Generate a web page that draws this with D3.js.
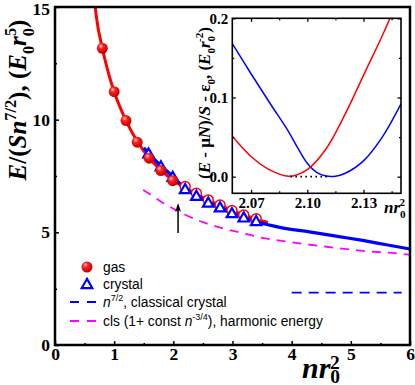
<!DOCTYPE html>
<html>
<head>
<meta charset="utf-8">
<script src="https://cdn.jsdelivr.net/npm/d3@7"></script>
<style>
  html, body { margin: 0; padding: 0; background: #fff; }
  svg { display: block; }
</style>
</head>
<body>
<div id="chart"></div>
<script>
const WIDTH = 415
const HEIGHT = 385

// ---- main panel data ----
// gas (filled spheres) and the hollow gas rings hidden behind the crystal triangles
const gasX = [0.8, 1.0, 1.2, 1.39, 1.59, 1.79, 1.99];
const gasY = [13.17, 11.24, 9.96, 9.0, 8.29, 7.74, 7.29];
const gasRingX = [2.2, 2.39, 2.59, 2.79, 2.99, 3.19, 3.4];
const gasRingY = [7.03, 6.73, 6.44, 6.21, 5.97, 5.77, 5.60];
const crystalX = [1.58, 1.79, 1.99, 2.2, 2.39, 2.59, 2.79, 2.99, 3.19, 3.4];
const crystalY = [8.5, 7.93, 7.46, 6.92, 6.62, 6.32, 6.11, 5.85, 5.66, 5.50];

// fitted curves
const gasLineX = [0.68, 0.7, 0.8, 0.9, 1.0, 1.2, 1.4, 1.6, 1.8, 2.0, 2.2, 2.4, 2.6, 2.8, 3.0, 3.2, 3.4, 3.6];
const gasLineY = [15.0, 14.55, 13.17, 12.1, 11.24, 9.96, 9.0, 8.28, 7.74, 7.3, 6.98, 6.69, 6.42, 6.18, 5.96, 5.77, 5.58, 5.43];
const crystalLineX = [1.5, 1.6, 1.8, 2.0, 2.2, 2.4, 2.6, 2.8, 3.0, 3.2, 3.4, 3.8, 4.3, 4.8, 5.2, 5.6, 6.0];
const crystalLineY = [8.75, 8.45, 7.93, 7.46, 6.95, 6.63, 6.34, 6.10, 5.86, 5.66, 5.48, 5.22, 5.02, 4.81, 4.64, 4.45, 4.26];
const harmonicX = [1.49, 1.6, 1.8, 2.0, 2.2, 2.5, 2.84, 3.2, 3.46, 4.0, 4.59, 5.2, 5.94, 6.0];
const harmonicY = [6.88, 6.70, 6.35, 6.05, 5.78, 5.45, 5.18, 4.95, 4.78, 4.56, 4.36, 4.18, 4.02, 4.0];
const classicalX = [4.0, 5.86];
const classicalY = [2.32, 2.32];
const arrowX = 2.08;
const arrowY = [4.97, 6.3];

const xTicks = [0, 1, 2, 3, 4, 5, 6];
const xMinor = [0.5, 1.5, 2.5, 3.5, 4.5, 5.5];
const yTicks = [0, 5, 10, 15];
const yMinor = [2.5, 7.5, 12.5];

// ---- inset data ----
const insetRedX = [2.06, 2.07, 2.08, 2.09, 2.10, 2.11, 2.12, 2.13, 2.14, 2.145];
const insetRedY = [0.051, 0.0255, 0.0085, 0.0005, 0.009, 0.035, 0.078, 0.128, 0.178, 0.205];
const insetBlueX = [2.06, 2.07, 2.08, 2.09, 2.095, 2.10, 2.105, 2.11, 2.115, 2.12, 2.13, 2.14, 2.15];
const insetBlueY = [0.168, 0.130, 0.093, 0.057, 0.036, 0.017, 0.0055, 0.0008, 0.0006, 0.004, 0.020, 0.05, 0.092];
const tangentX = [2.091, 2.111];
const insetXTicks = [2.07, 2.10, 2.13];
const insetXMinor = [2.085, 2.115, 2.145];
const insetYTicks = [0.0, 0.1, 0.2];
const insetYMinor = [0.05, 0.15];

const legendItems = ['gas', 'crystal', 'classical', 'harmonic'];

const SERIF = "'Liberation Serif', 'Times New Roman', serif";
const SANS = "'Liberation Sans', Arial, sans-serif";
const RED = '#ff0000';
const BLUE = '#0000ff';
const MAGENTA = '#ff00ff';

var svg = d3.select("#chart").append("svg")
    .attr("width", WIDTH)
    .attr("height", HEIGHT);

var defs = svg.append("defs");
var grad = defs.append("radialGradient")
    .attr("id", "sphere")
    .attr("cx", "0.4").attr("cy", "0.35").attr("r", "0.65")
    .attr("fx", "0.35").attr("fy", "0.3");
grad.append("stop").attr("offset", "0").attr("stop-color", "#ffd0d0");
grad.append("stop").attr("offset", "0.35").attr("stop-color", "#ff2020");
grad.append("stop").attr("offset", "1").attr("stop-color", "#c00000");

var xScale = d3.scaleLinear().domain([0, 6]).range([55, 410]);
var yScale = d3.scaleLinear().domain([0, 15]).range([345, 7]);

// rich text helper: parts = [{t, i, s:'sub'|'sup', dx}]
function rich(sel, parts, size, subK, supK) {
    let cur = 0;
    const sk = subK || 0.3;
    const pk = supK || 0.42;
    parts.forEach(p => {
        const s = p.s || 'n';
        const off = s === 'sub' ? sk * size : s === 'sup' ? -pk * size : 0;
        const ts = sel.append("tspan").text(p.t)
            .attr("dy", off - cur)
            .attr("font-size", s === 'n' ? size : size * 0.65)
            .attr("font-style", p.i ? "italic" : "normal");
        if (p.dx) ts.attr("dx", p.dx);
        cur = off;
    });
}

// ---- axes (ticks inward) ----
svg.append("g")
    .attr("transform", "translate(0,345)")
    .call(d3.axisBottom(xScale).tickValues(xTicks).tickSize(-4).tickPadding(3).tickFormat(d3.format("d")));
svg.append("g")
    .attr("transform", "translate(0,345)")
    .call(d3.axisBottom(xScale).tickValues(xMinor).tickSize(-2).tickFormat(""));
svg.append("g")
    .attr("transform", "translate(55,0)")
    .call(d3.axisLeft(yScale).tickValues(yTicks).tickSize(-4).tickPadding(5).tickFormat(d3.format("d")));
svg.append("g")
    .attr("transform", "translate(55,0)")
    .call(d3.axisLeft(yScale).tickValues(yMinor).tickSize(-2).tickFormat(""));
svg.selectAll(".domain").remove();
svg.selectAll(".tick line").attr("stroke", "#000").attr("stroke-width", 1.5);
svg.selectAll(".tick text")
    .attr("font-family", SERIF)
    .attr("font-weight", "bold")
    .attr("font-size", 17.5)
    .attr("fill", "#000");
// keep the top label inside the picture
svg.selectAll(".tick text").filter(d => d === 15).attr("dy", "0.45em");

// ---- curves ----
var line = d3.line()
    .x(d => xScale(d[0]))
    .y(d => yScale(d[1]))
    .curve(d3.curveMonotoneX);

svg.append("path")
    .datum(harmonicX.map((x, i) => [x, harmonicY[i]]))
    .attr("fill", "none")
    .attr("stroke", MAGENTA)
    .attr("stroke-width", 1.8)
    .attr("stroke-dasharray", "9,7")
    .attr("d", line);

svg.append("path")
    .datum(classicalX.map((x, i) => [x, classicalY[i]]))
    .attr("fill", "none")
    .attr("stroke", BLUE)
    .attr("stroke-width", 1.8)
    .attr("stroke-dasharray", "10,7")
    .attr("d", line);

svg.append("path")
    .datum(gasLineX.map((x, i) => [x, gasLineY[i]]))
    .attr("fill", "none")
    .attr("stroke", RED)
    .attr("stroke-width", 3)
    .attr("d", line);

svg.append("path")
    .datum(crystalLineX.map((x, i) => [x, crystalLineY[i]]))
    .attr("fill", "none")
    .attr("stroke", BLUE)
    .attr("stroke-width", 3.2)
    .attr("d", line);

// hollow gas rings behind triangles
svg.append("g").selectAll("circle")
    .data(gasRingX.map((x, i) => [x, gasRingY[i]]))
    .enter().append("circle")
    .attr("cx", d => xScale(d[0]))
    .attr("cy", d => yScale(d[1]))
    .attr("r", 5)
    .attr("fill", "#fff")
    .attr("stroke", RED)
    .attr("stroke-width", 1.5);

// crystal triangles
var tri = d3.symbol().type(d3.symbolTriangle).size(48);
svg.append("g").selectAll("path")
    .data(crystalX.map((x, i) => [x, crystalY[i]]))
    .enter().append("path")
    .attr("d", tri)
    .attr("transform", d => `translate(${xScale(d[0])},${yScale(d[1]) + 1})`)
    .attr("fill", "#fff")
    .attr("stroke", BLUE)
    .attr("stroke-width", 2.2);

// gas spheres on top
svg.append("g").selectAll("circle")
    .data(gasX.map((x, i) => [x, gasY[i]]))
    .enter().append("circle")
    .attr("cx", d => xScale(d[0]))
    .attr("cy", d => yScale(d[1]))
    .attr("r", 5.5)
    .attr("fill", "url(#sphere)");

// arrow
svg.append("line")
    .attr("x1", xScale(arrowX)).attr("x2", xScale(arrowX))
    .attr("y1", yScale(arrowY[0])).attr("y2", yScale(arrowY[1]) + 6)
    .attr("stroke", "#000").attr("stroke-width", 1.5);
svg.append("path")
    .attr("d", `M${xScale(arrowX)},${yScale(arrowY[1])} l-3,9 l3,-2.5 l3,2.5 z`)
    .attr("fill", "#000");

// ---- legend ----
var legend = svg.append("g").attr("font-family", SANS).attr("font-size", 13.8);
var legY = [267, 284, 302, 321];
legendItems.forEach((k, i) => {
    var g = legend.append("g").attr("transform", `translate(0,${legY[i]})`);
    if (k === 'gas') {
        g.append("circle").attr("cx", 87).attr("cy", 0).attr("r", 5.5).attr("fill", "url(#sphere)");
    } else if (k === 'crystal') {
        g.append("path").attr("d", tri).attr("transform", "translate(87,1)")
            .attr("fill", "#fff").attr("stroke", BLUE).attr("stroke-width", 2.2);
    } else {
        g.append("line").attr("x1", 70).attr("x2", 97).attr("y1", 0).attr("y2", 0)
            .attr("stroke", k === 'classical' ? BLUE : MAGENTA)
            .attr("stroke-width", 1.8).attr("stroke-dasharray", "9,8");
    }
    var t = g.append("text").attr("x", 103).attr("y", 4.5);
    if (k === 'gas') t.text("gas");
    else if (k === 'crystal') t.text("crystal");
    else if (k === 'classical') rich(t, [{t: "n", i: true}, {t: "7/2", s: 'sup'}, {t: ", classical crystal"}], 13.8);
    else rich(t, [{t: "cls (1+ const "}, {t: "n", i: true}, {t: "-3/4", s: 'sup'}, {t: "), harmonic energy"}], 13.8);
});

// ---- main frame ----
svg.append("rect")
    .attr("x", 55).attr("y", 7).attr("width", 355).attr("height", 338)
    .attr("fill", "none").attr("stroke", "#000").attr("stroke-width", 2.5);

// ---- axis titles ----
var xTitle = svg.append("text")
    .attr("x", 302).attr("y", 378)
    .attr("font-family", SERIF).attr("font-weight", "bold").attr("font-size", 30);
rich(xTitle, [{t: "nr", i: true}, {t: "0", s: 'sub'}, {t: "2", s: 'sup', dx: -10}], 30, 0.15, 0.3);

var yTitle = svg.append("text")
    .attr("transform", "translate(26,100) rotate(-90)")
    .attr("text-anchor", "middle")
    .attr("font-family", SERIF).attr("font-weight", "bold").attr("font-size", 25);
rich(yTitle, [
    {t: "E", i: true}, {t: "/("}, {t: "Sn", i: true}, {t: "7/2", s: 'sup'},
    {t: "), ("}, {t: "E", i: true}, {t: "0", s: 'sub'}, {t: "r", i: true},
    {t: "0", s: 'sub'}, {t: "5", s: 'sup', dx: -8}, {t: ")"}
], 25);

// ---- inset ----
var ix = d3.scaleLinear().domain([2.06, 2.15]).range([232.3, 401]);
var iy = d3.scaleLinear().domain([-0.021, 0.2]).range([193.3, 18.3]);
var inset = svg.append("g");
inset.append("rect")
    .attr("x", 232.3).attr("y", 18.3).attr("width", 401 - 232.3).attr("height", 193.3 - 18.3)
    .attr("fill", "#fff");
defs.append("clipPath").attr("id", "insetClip")
    .append("rect")
    .attr("x", 232.3).attr("y", 18.3).attr("width", 401 - 232.3).attr("height", 193.3 - 18.3);

var iline = d3.line()
    .x(d => ix(d[0]))
    .y(d => iy(d[1]))
    .curve(d3.curveCatmullRom);
var curves = inset.append("g").attr("clip-path", "url(#insetClip)");
curves.append("path")
    .datum(insetBlueX.map((x, i) => [x, insetBlueY[i]]))
    .attr("fill", "none").attr("stroke", BLUE).attr("stroke-width", 1.5)
    .attr("d", iline);
curves.append("path")
    .datum(insetRedX.map((x, i) => [x, insetRedY[i]]))
    .attr("fill", "none").attr("stroke", RED).attr("stroke-width", 1.5)
    .attr("d", iline);
curves.append("line")
    .attr("x1", ix(tangentX[0])).attr("x2", ix(tangentX[1]))
    .attr("y1", iy(0)).attr("y2", iy(0))
    .attr("stroke", "#000").attr("stroke-width", 1.8)
    .attr("stroke-dasharray", "1.6,3.4");

function insetAxis(axis, tr, vals, size, fmt) {
    var g = inset.append("g").attr("transform", tr)
        .call(axis.tickValues(vals).tickSize(size).tickPadding(4).tickFormat(fmt));
    g.select(".domain").remove();
    g.selectAll(".tick line").attr("stroke", "#000").attr("stroke-width", 1.3);
    g.selectAll(".tick text")
        .attr("font-family", SERIF).attr("font-weight", "bold").attr("font-size", 15).attr("fill", "#000");
    return g;
}
insetAxis(d3.axisBottom(ix), "translate(0,193.3)", insetXTicks, -3.5, d3.format(".2f"));
insetAxis(d3.axisBottom(ix), "translate(0,193.3)", insetXMinor, -2, "");
insetAxis(d3.axisTop(ix), "translate(0,18.3)", insetXTicks, -3.5, "");
insetAxis(d3.axisTop(ix), "translate(0,18.3)", insetXMinor, -2, "");
insetAxis(d3.axisLeft(iy), "translate(232.3,0)", insetYTicks, -3.5, d3.format(".1f"));
insetAxis(d3.axisLeft(iy), "translate(232.3,0)", insetYMinor, -2, "");
insetAxis(d3.axisRight(iy), "translate(401,0)", insetYTicks, -3.5, "");
insetAxis(d3.axisRight(iy), "translate(401,0)", insetYMinor, -2, "");

inset.append("rect")
    .attr("x", 232.3).attr("y", 18.3).attr("width", 401 - 232.3).attr("height", 193.3 - 18.3)
    .attr("fill", "none").attr("stroke", "#000").attr("stroke-width", 1.6);

var ixTitle = inset.append("text")
    .attr("x", 384).attr("y", 213)
    .attr("font-family", SERIF).attr("font-weight", "bold").attr("font-size", 17);
rich(ixTitle, [{t: "nr", i: true}, {t: "0", s: 'sub'}, {t: "2", s: 'sup', dx: -6}], 17);

var iyTitle = inset.append("text")
    .attr("transform", "translate(210,103) rotate(-90)")
    .attr("text-anchor", "middle")
    .attr("font-family", SERIF).attr("font-weight", "bold").attr("font-size", 17);
rich(iyTitle, [
    {t: "("}, {t: "E", i: true}, {t: " - \u03bc"}, {t: "N", i: true}, {t: ")/"},
    {t: "S", i: true}, {t: " - \u03b5"}, {t: "0", s: 'sub'}, {t: ", ("},
    {t: "E", i: true}, {t: "0", s: 'sub'}, {t: "r", i: true}, {t: "0", s: 'sub'},
    {t: "-2", s: 'sup', dx: -6}, {t: ")"}
], 17);
</script>
</body>
</html>
